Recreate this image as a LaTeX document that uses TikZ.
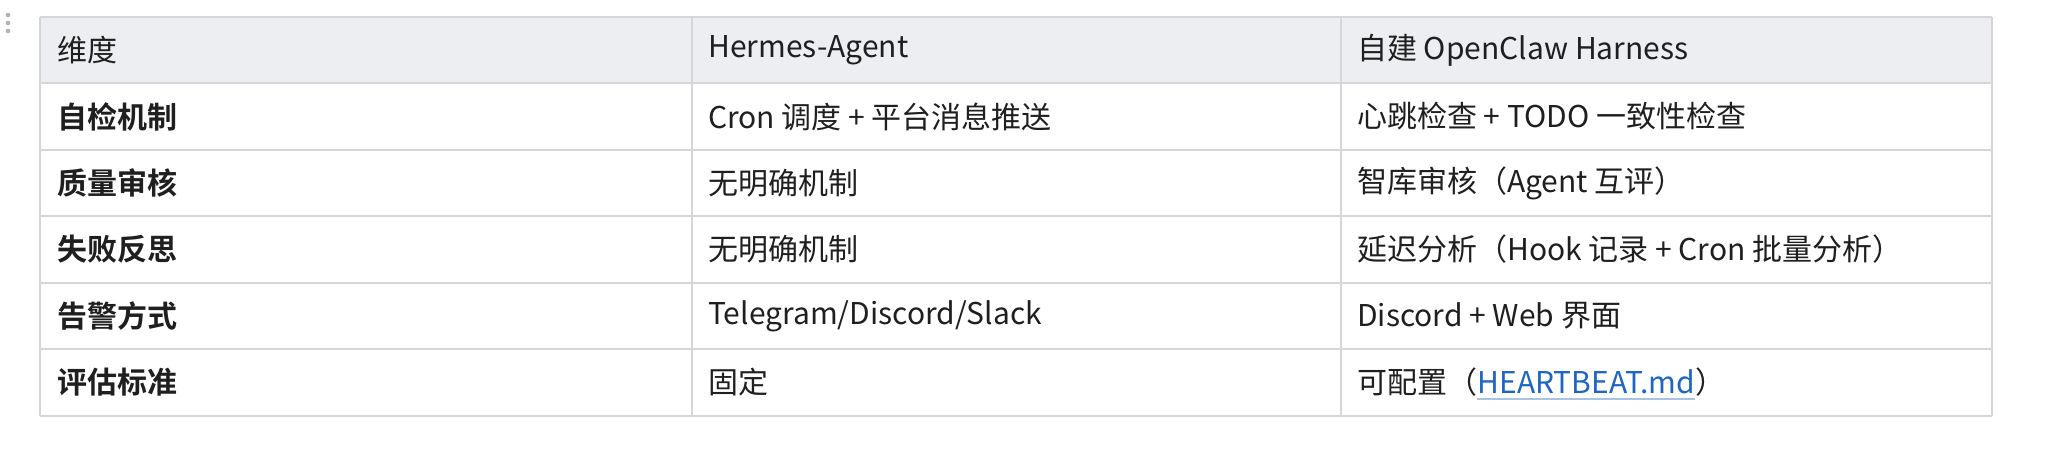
\documentclass[tikz,border=0pt]{standalone}
\usepackage{fontspec}
\setmainfont{Noto Sans CJK SC}[BoldFont={Noto Sans CJK SC Bold}]
\definecolor{grid}{HTML}{D6D6D9}
\definecolor{headbg}{HTML}{EDEEF1}
\definecolor{txt}{HTML}{1F1F1F}
\definecolor{link}{HTML}{1E66C4}
\definecolor{uline}{HTML}{A9C3E4}
\begin{document}
\begin{tikzpicture}[x=1pt,y=-1pt,
  cell/.style={anchor=west,inner sep=0pt,font=\fontsize{30}{34}\selectfont,text=txt},
  head/.style={cell,font=\fontsize{30}{34}\selectfont\bfseries}]
\useasboundingbox (0,0) rectangle (2048,451);
\fill[headbg] (40,17) rectangle (1992,83);
\foreach \y in {17,83,150,216,283,349,416} \draw[grid,line width=2pt] (40,\y) -- (1992,\y);
\foreach \x in {40,692,1341,1992} \draw[grid,line width=1.5pt] (\x,17) -- (\x,416);
\foreach \y in {15,23,31} \fill[gray!60] (8,\y) circle (2.3);
% header
\node[cell] (h1) at (57,50) {维度};
\node[cell] (h2) at (708,50) {Hermes-Agent};
\node[cell] (h3) at (1357,50) {自建 OpenClaw Harness};
% rows
\node[head] (a1) at (57,116.5) {自检机制};
\node[cell] (b1) at (708,116.5) {Cron 调度 + 平台消息推送};
\node[cell] (c1) at (1357,116.5) {心跳检查 + TODO 一致性检查};
\node[head] (a2) at (57,183) {质量审核};
\node[cell] (b2) at (708,183) {无明确机制};
\node[cell] (c2) at (1357,183) {智库审核（Agent 互评）};
\node[head] (a3) at (57,249.5) {失败反思};
\node[cell] (b3) at (708,249.5) {无明确机制};
\node[cell] (c3) at (1357,249.5) {延迟分析（Hook 记录 + Cron 批量分析）};
\node[head] (a4) at (57,316) {告警方式};
\node[cell] (b4) at (708,316) {Telegram/Discord/Slack};
\node[cell] (c4) at (1357,316) {Discord + Web 界面};
\node[head] (a5) at (57,382.5) {评估标准};
\node[cell] (b5) at (708,382.5) {固定};
\node[cell] (c5) at (1357,382.5) {可配置（};
\node[cell,text=link,anchor=base west] (c5l) at (c5.base east) {HEARTBEAT.md};
\node[cell,anchor=base west] (c5r) at (c5l.base east) {）};
\draw[uline,line width=2pt] ([yshift=-5pt]c5l.base west) -- ([yshift=-5pt]c5l.base east);
\end{tikzpicture}
\end{document}
